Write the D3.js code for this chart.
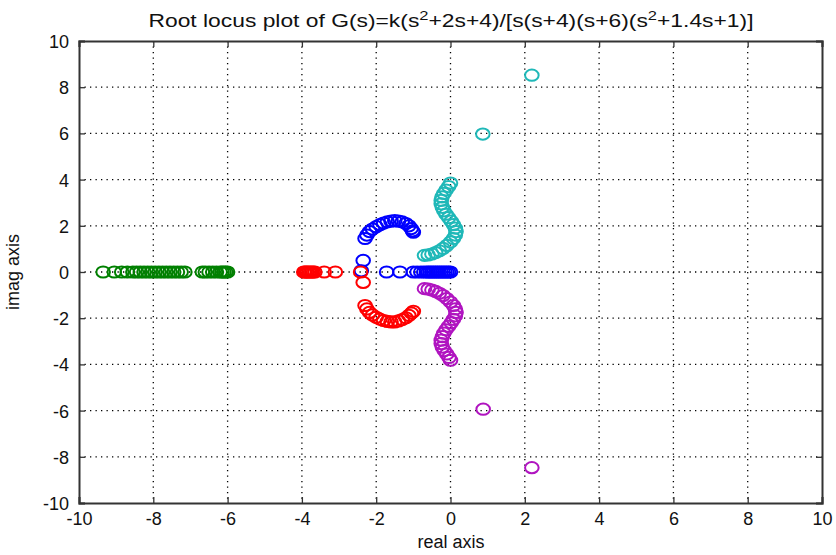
<!DOCTYPE html>
<html>
<head>
<meta charset="utf-8">
<script src="https://cdn.jsdelivr.net/npm/d3@7"></script>
<style>
  body { margin: 0; background: #fff; }
  text { font-family: "Liberation Sans", Arial, sans-serif; fill: #111; }
</style>
</head>
<body>
<script>
var svgWidth = 836;
var svgHeight = 555;

// plot box in pixels
var box = { left: 79, right: 822, top: 41, bottom: 503 };

// axis ticks
var xTicks = [-10, -8, -6, -4, -2, 0, 2, 4, 6, 8, 10];
var yTicks = [-10, -8, -6, -4, -2, 0, 2, 4, 6, 8, 10];

// closed loop roots, one array per branch [re, im]
var blueRoots = [
  [0.0, 0], [-0.05, 0], [-0.1, 0], [-0.15, 0], [-0.2, 0], [-0.25, 0], [-0.3, 0],
  [-0.35, 0], [-0.4, 0], [-0.45, 0], [-0.5, 0], [-0.55, 0], [-0.6, 0], [-0.65, 0],
  [-0.72, 0], [-0.8, 0], [-0.9, 0], [-1.0, 0], [-1.36, 0], [-1.72, 0],
  [-2.4, 0.05], [-2.35, 0.5],
  [-2.3, 1.45], [-2.25, 1.6], [-2.18, 1.75], [-2.1, 1.86], [-2.0, 1.96], [-1.9, 2.05],
  [-1.8, 2.12], [-1.7, 2.17], [-1.6, 2.2], [-1.5, 2.22], [-1.4, 2.2], [-1.3, 2.17],
  [-1.2, 2.1], [-1.12, 2.0], [-1.06, 1.88], [-1.02, 1.78], [-1.0, 1.72]
];
var greenRoots = [
  [-6.0, 0], [-6.05, 0], [-6.1, 0], [-6.15, 0], [-6.2, 0], [-6.3, 0], [-6.4, 0],
  [-6.5, 0], [-6.6, 0], [-6.68, 0],
  [-7.15, 0], [-7.25, 0], [-7.35, 0], [-7.45, 0], [-7.55, 0], [-7.65, 0], [-7.75, 0],
  [-7.85, 0], [-7.95, 0], [-8.05, 0], [-8.15, 0], [-8.25, 0], [-8.35, 0], [-8.45, 0],
  [-8.55, 0], [-8.7, 0], [-8.85, 0], [-9.05, 0], [-9.35, 0]
];
var redRoots = [
  [-3.95, 0], [-3.92, 0], [-3.88, 0], [-3.85, 0], [-3.81, 0], [-3.77, 0], [-3.73, 0],
  [-3.69, 0], [-3.65, 0], [-3.4, 0], [-3.1, 0],
  [-2.42, 0], [-2.35, -0.45],
  [-2.3, -1.45], [-2.25, -1.6], [-2.18, -1.75], [-2.1, -1.86], [-2.0, -1.96], [-1.9, -2.04],
  [-1.8, -2.1], [-1.7, -2.14], [-1.6, -2.16], [-1.5, -2.16], [-1.4, -2.12], [-1.3, -2.06],
  [-1.2, -1.98], [-1.12, -1.88], [-1.05, -1.78], [-1.0, -1.7]
];
var cyanRoots = [
  [-0.7, 0.72], [-0.6, 0.74], [-0.5, 0.78], [-0.4, 0.84], [-0.3, 0.92], [-0.2, 1.02],
  [-0.1, 1.15], [0.0, 1.3], [0.08, 1.45], [0.13, 1.6], [0.15, 1.75], [0.13, 1.9],
  [0.08, 2.05], [0.02, 2.2], [-0.05, 2.35], [-0.12, 2.5], [-0.18, 2.65], [-0.22, 2.8],
  [-0.25, 2.95], [-0.25, 3.1], [-0.23, 3.25], [-0.18, 3.4], [-0.12, 3.55], [-0.05, 3.7],
  [0.0, 3.85], [0.87, 5.97], [2.19, 8.52]
];
var magentaRoots = [
  [-0.7, -0.72], [-0.6, -0.74], [-0.5, -0.78], [-0.4, -0.84], [-0.3, -0.92], [-0.2, -1.02],
  [-0.1, -1.15], [0.0, -1.3], [0.08, -1.45], [0.13, -1.6], [0.15, -1.75], [0.13, -1.9],
  [0.08, -2.05], [0.02, -2.2], [-0.05, -2.35], [-0.12, -2.5], [-0.18, -2.65], [-0.22, -2.8],
  [-0.25, -2.95], [-0.25, -3.1], [-0.22, -3.25], [-0.17, -3.4], [-0.1, -3.55], [-0.04, -3.7],
  [0.0, -3.82], [0.88, -5.94], [2.19, -8.47]
];

var branches = [
  { roots: blueRoots, color: "#0000ff" },
  { roots: greenRoots, color: "#008000" },
  { roots: redRoots, color: "#ff0000" },
  { roots: cyanRoots, color: "#1fb8b8" },
  { roots: magentaRoots, color: "#b014c0" }
];

var svg = d3.select("body")
  .append("svg")
  .attr("width", svgWidth)
  .attr("height", svgHeight);

var x = d3.scaleLinear().domain([-10, 10]).range([box.left, box.right]);
var y = d3.scaleLinear().domain([-10, 10]).range([box.bottom, box.top]);

// dotted grid
var grid = svg.append("g").attr("class", "grid");
grid.selectAll("line.gx")
  .data(xTicks.slice(1, -1))
  .enter().append("line")
  .attr("x1", d => x(d)).attr("x2", d => x(d))
  .attr("y1", box.top).attr("y2", box.bottom)
  .attr("stroke", "#000").attr("stroke-width", 1.3)
  .attr("stroke-dasharray", "1.3,4.2");
grid.selectAll("line.gy")
  .data(yTicks.slice(1, -1))
  .enter().append("line")
  .attr("y1", d => y(d)).attr("y2", d => y(d))
  .attr("x1", box.left).attr("x2", box.right)
  .attr("stroke", "#000").attr("stroke-width", 1.3)
  .attr("stroke-dasharray", "1.3,4.2");

// root markers
branches.forEach(function(b) {
  svg.append("g")
    .selectAll("ellipse")
    .data(b.roots)
    .enter().append("ellipse")
    .attr("cx", d => x(d[0]))
    .attr("cy", d => y(d[1]))
    .attr("rx", 6.8)
    .attr("ry", 5.6)
    .attr("fill", "none")
    .attr("stroke", b.color)
    .attr("stroke-width", 2);
});

// axes with inward ticks, plain hyphen minus like the original
var fmt = d => String(d);
var bottomAxis = svg.append("g")
  .attr("transform", `translate(0, ${box.bottom})`)
  .call(d3.axisBottom(x).tickValues(xTicks).tickSize(-6).tickPadding(9).tickFormat(fmt));
var leftAxis = svg.append("g")
  .attr("transform", `translate(${box.left}, 0)`)
  .call(d3.axisLeft(y).tickValues(yTicks).tickSize(-6).tickPadding(10).tickFormat(fmt));
var topAxis = svg.append("g")
  .attr("transform", `translate(0, ${box.top})`)
  .call(d3.axisTop(x).tickValues(xTicks).tickSize(-6).tickFormat(""));
var rightAxis = svg.append("g")
  .attr("transform", `translate(${box.right}, 0)`)
  .call(d3.axisRight(y).tickValues(yTicks).tickSize(-6).tickFormat(""));

[bottomAxis, leftAxis, topAxis, rightAxis].forEach(function(a) {
  a.select(".domain").attr("stroke", "#333").attr("stroke-width", 2);
  a.selectAll(".tick line").attr("stroke", "#333").attr("stroke-width", 1.3);
  a.selectAll(".tick text")
    .style("font-family", "'Liberation Sans', Arial, sans-serif")
    .style("font-size", "18px")
    .attr("fill", "#111");
});
leftAxis.selectAll(".tick text").attr("dy", "0.36em");

// title with superscripts, stretched to the width it has in the original
var title = svg.append("text")
  .attr("x", 451)
  .attr("y", 27)
  .attr("text-anchor", "middle")
  .attr("textLength", 605)
  .attr("lengthAdjust", "spacingAndGlyphs")
  .style("font-size", "18px");
var parts = [
  ["Root locus plot of G(s)=k(s", false], ["2", true], ["+2s+4)/[s(s+4)(s+6)(s", false],
  ["2", true], ["+1.4s+1)]", false]
];
parts.forEach(function(p, i) {
  var t = title.append("tspan").text(p[0]);
  if (p[1]) t.attr("dy", -7).style("font-size", "13px");
  else if (i > 0) t.attr("dy", 7);
});

// axis labels
svg.append("text")
  .attr("x", 451)
  .attr("y", 548)
  .attr("text-anchor", "middle")
  .style("font-size", "18px")
  .text("real axis");

svg.append("text")
  .attr("transform", `translate(19, ${(box.top + box.bottom) / 2}) rotate(-90)`)
  .attr("text-anchor", "middle")
  .style("font-size", "18px")
  .text("imag axis");
</script>
</body>
</html>
